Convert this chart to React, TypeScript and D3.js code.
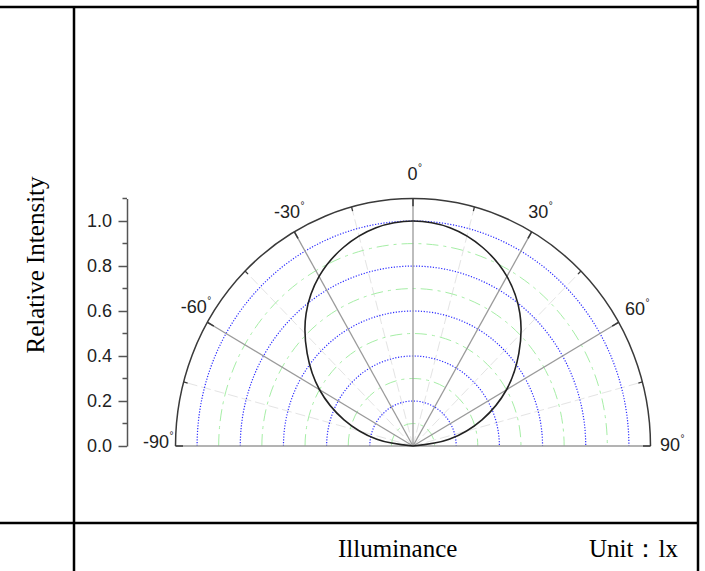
import { useEffect, useRef } from "react";
import * as d3 from "d3";

// values
const angles = [-90, -80, -70, -60, -50, -40, -30, -20, -10, 0, 10, 20, 30, 40, 50, 60, 70, 80, 90];
const intensity = [0, 0.17, 0.34, 0.5, 0.64, 0.77, 0.87, 0.94, 0.985, 1.0, 0.985, 0.94, 0.87, 0.77, 0.64, 0.5, 0.34, 0.17, 0];
const radialTicks = [0, 0.2, 0.4, 0.6, 0.8, 1.0];
const radialMinor = [0.1, 0.3, 0.5, 0.7, 0.9, 1.1];
const gridMajor = [0.2, 0.4, 0.6, 0.8, 1.0];
const gridMinor = [0.1, 0.3, 0.5, 0.7, 0.9];
const angleTicks = [-90, -60, -30, 0, 30, 60, 90];
const angleMinor = [-75, -45, -15, 15, 45, 75];
const spokes = [-60, -30, 0, 30, 60];

const W = 705;
const H = 571;

const PolarChart = () => {
  const svgRef = useRef<SVGSVGElement>(null);

  useEffect(() => {
    const svg = d3.select(svgRef.current);
    svg.selectAll("*").remove();

    const cx = 413;
    const cy = 446;
    const rMax = 1.1;
    // picture is slightly squashed horizontally
    const rx = d3.scaleLinear().domain([0, rMax]).range([0, 237.5]);
    const ry = d3.scaleLinear().domain([0, rMax]).range([0, 247.5]);
    const rad = (deg: number) => (deg * Math.PI) / 180;
    const px = (r: number, a: number) => cx + rx(r) * Math.sin(rad(a));
    const py = (r: number, a: number) => cy - ry(r) * Math.cos(rad(a));

    // table frame
    const frame = svg.append("g").attr("stroke", "#000").attr("stroke-width", 2.5);
    frame.append("line").attr("x1", 0).attr("x2", 698).attr("y1", 7).attr("y2", 7);
    frame.append("line").attr("x1", 698).attr("x2", 698).attr("y1", 0).attr("y2", H);
    frame.append("line").attr("x1", 74).attr("x2", 74).attr("y1", 7).attr("y2", H);
    frame.append("line").attr("x1", 0).attr("x2", 698).attr("y1", 523).attr("y2", 523);

    const half = (r: number) =>
      `M${cx - rx(r)},${cy} A${rx(r)},${ry(r)} 0 0 1 ${cx + rx(r)},${cy}`;

    const g = svg.append("g");

    // minor spokes
    g.selectAll(".minor-spoke")
      .data(angleMinor)
      .enter()
      .append("line")
      .attr("x1", cx)
      .attr("y1", cy)
      .attr("x2", (a) => px(rMax, a))
      .attr("y2", (a) => py(rMax, a))
      .attr("stroke", "#e4e4e4")
      .attr("stroke-width", 1)
      .attr("stroke-dasharray", "10,4");

    // green minor circles
    g.selectAll(".minor-ring")
      .data(gridMinor)
      .enter()
      .append("path")
      .attr("d", (r) => half(r))
      .attr("fill", "none")
      .attr("stroke", "#a6eea6")
      .attr("stroke-width", 1)
      .attr("stroke-dasharray", "12,5,3,5");

    // blue dotted circles
    g.selectAll(".major-ring")
      .data(gridMajor)
      .enter()
      .append("path")
      .attr("d", (r) => half(r))
      .attr("fill", "none")
      .attr("stroke", "#2b2bff")
      .attr("stroke-width", 1.2)
      .attr("stroke-dasharray", "1.2,1.6");

    // major spokes
    g.selectAll(".spoke")
      .data(spokes)
      .enter()
      .append("line")
      .attr("x1", cx)
      .attr("y1", cy)
      .attr("x2", (a) => px(rMax, a))
      .attr("y2", (a) => py(rMax, a))
      .attr("stroke", "#9a9a9a")
      .attr("stroke-width", 1.3);

    // baseline
    g.append("line")
      .attr("x1", cx - rx(rMax))
      .attr("x2", cx + rx(rMax))
      .attr("y1", cy)
      .attr("y2", cy)
      .attr("stroke", "#9a9a9a")
      .attr("stroke-width", 1.5);

    // outer arc
    g.append("path")
      .attr("d", half(rMax))
      .attr("fill", "none")
      .attr("stroke", "#3a3a3a")
      .attr("stroke-width", 1.5);

    // ticks on outer arc (inward)
    const tick = (len: number) => (a: number) => {
      const r2 = rMax - len / 230;
      return `M${px(rMax, a)},${py(rMax, a)} L${px(r2, a)},${py(r2, a)}`;
    };
    g.selectAll(".atick")
      .data(angleTicks)
      .enter()
      .append("path")
      .attr("d", tick(8))
      .attr("stroke", "#3a3a3a")
      .attr("stroke-width", 1.5);
    g.selectAll(".atick-minor")
      .data(angleMinor)
      .enter()
      .append("path")
      .attr("d", tick(4.5))
      .attr("stroke", "#3a3a3a")
      .attr("stroke-width", 1.3);

    // data curve
    const line = d3
      .line<number>()
      .x((d, i) => px(d, angles[i]))
      .y((d, i) => py(d, angles[i]))
      .curve(d3.curveCatmullRom);
    g.append("path")
      .attr("d", line(intensity))
      .attr("fill", "none")
      .attr("stroke", "#222")
      .attr("stroke-width", 1.6);

    // angle labels: end-x / baseline offsets from the outer arc point
    const labelOff: Record<number, [number, number]> = {
      "-90": [-6.5, 2],
      "-60": [-0.6, -9.3],
      "-30": [5.8, -13.7],
      "0": [4.5, -18.5],
      "30": [16.5, -13.7],
      "60": [26.3, -7.3],
      "90": [29.5, 5],
    };
    const lab = g
      .selectAll(".alabel")
      .data(angleTicks)
      .enter()
      .append("g")
      .attr("font-family", "'Liberation Sans', Arial, sans-serif")
      .attr("fill", "#222");
    lab
      .append("text")
      .attr("x", (a) => px(rMax, a) + labelOff[a][0])
      .attr("y", (a) => py(rMax, a) + labelOff[a][1])
      .attr("text-anchor", "end")
      .attr("font-size", 18)
      .text((a) => `${a}`);
    lab
      .append("text")
      .attr("x", (a) => px(rMax, a) + labelOff[a][0] + 0.5)
      .attr("y", (a) => py(rMax, a) + labelOff[a][1] - 9)
      .attr("font-size", 10)
      .text("°");

    // radial axis on the left
    const yAxisScale = d3.scaleLinear().domain([0, rMax]).range([cy, cy - ry(rMax)]);
    const axisX = 127;
    const ax = svg
      .append("g")
      .attr("transform", `translate(${axisX},0)`)
      .call(
        d3
          .axisLeft(yAxisScale)
          .tickValues(radialTicks)
          .tickSize(8.5)
          .tickPadding(6.5)
          .tickFormat(d3.format(".1f"))
          .tickSizeOuter(0)
      );
    ax.select(".domain").attr("stroke", "#555").attr("stroke-width", 1.5);
    ax.selectAll(".tick line").attr("stroke", "#555").attr("stroke-width", 1.5);
    ax.selectAll(".tick text")
      .attr("fill", "#222")
      .attr("font-size", 18)
      .attr("font-family", "'Liberation Sans', Arial, sans-serif");
    ax.selectAll(".minor")
      .data(radialMinor)
      .enter()
      .append("line")
      .attr("x1", 0)
      .attr("x2", -4.5)
      .attr("y1", (d) => yAxisScale(d))
      .attr("y2", (d) => yAxisScale(d))
      .attr("stroke", "#555")
      .attr("stroke-width", 1.5);

    // table texts
    const serif = "'Liberation Serif', 'Times New Roman', serif";
    svg
      .append("text")
      .attr("transform", "translate(44,265) rotate(-90)")
      .attr("text-anchor", "middle")
      .attr("font-family", serif)
      .attr("font-size", 25)
      .text("Relative Intensity");
    svg
      .append("text")
      .attr("x", 338)
      .attr("y", 557)
      .attr("font-family", serif)
      .attr("font-size", 25)
      .text("Illuminance");
    svg
      .append("text")
      .attr("x", 589)
      .attr("y", 557)
      .attr("font-family", serif)
      .attr("font-size", 25)
      .text("Unit：lx");
  }, []);

  return <svg ref={svgRef} width={W} height={H} style={{ display: "block" }} />;
};

export default function App() {
  return (
    <div style={{ position: "fixed", left: 0, top: 0, background: "#fff" }}>
      <PolarChart />
    </div>
  );
}
